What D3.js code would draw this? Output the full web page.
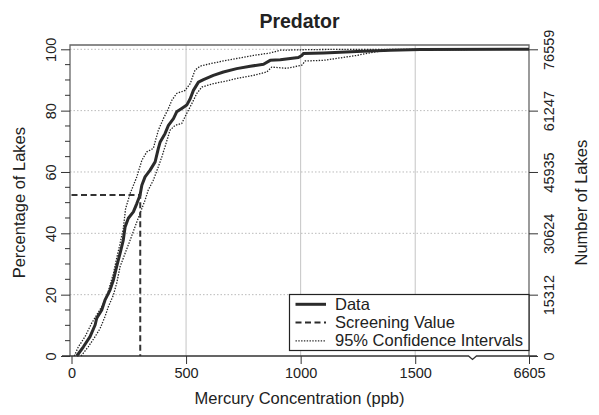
<!DOCTYPE html>
<html>
<head>
<meta charset="utf-8">
<script src="https://cdn.jsdelivr.net/npm/d3@7"></script>
<style>
  body { margin: 0; background: #fff; }
  text { font-family: "Liberation Sans", Arial, sans-serif; fill: #222; }
</style>
</head>
<body>
<div class="chart"></div>
<script>
// cumulative distribution (ppb, % of lakes)
var dataPpb = [23, 52, 81, 103, 110, 132, 146, 168, 183, 197, 212, 226, 234, 248, 270, 285, 299, 307, 321, 343, 365, 379, 387, 408, 423, 445, 459, 481, 503, 518, 532, 554, 576, 619, 663, 721, 780, 838, 867, 911, 990, 1005, 1012, 1100, 1245, 1391, 1522, 6605];
var dataPct = [0, 3.0, 6.3, 10.1, 12.3, 15.0, 18.2, 21.5, 24.8, 29.1, 33.5, 37.8, 42.1, 44.9, 47.0, 49.7, 52.4, 55.7, 58.4, 60.6, 63.3, 67.7, 69.8, 72.5, 75.2, 77.4, 79.6, 80.7, 81.8, 83.9, 86.6, 89.3, 90.1, 91.5, 92.6, 93.7, 94.5, 95.1, 96.4, 96.6, 97.3, 98.0, 98.6, 98.8, 99.3, 99.7, 99.9, 100];

var upperPpb = [12, 30, 59, 88, 110, 132, 154, 168, 183, 197, 212, 226, 236, 256, 285, 307, 328, 357, 379, 401, 423, 438, 459, 496, 518, 539, 561, 605, 663, 721, 794, 867, 911, 1042, 1200, 6605];
var upperPct = [0, 3.0, 6.3, 10.7, 13.4, 16.1, 19.3, 23.1, 26.9, 31.8, 36.7, 41.6, 48.0, 53.0, 58.4, 63.8, 66.5, 67.7, 73.6, 77.4, 80.7, 83.4, 85.6, 86.6, 88.8, 93.2, 94.5, 95.3, 96.2, 97.0, 98.0, 98.8, 99.7, 99.9, 100, 100];

var lowerPpb = [42, 73, 103, 125, 146, 161, 183, 197, 212, 234, 256, 277, 299, 321, 335, 357, 379, 394, 408, 430, 452, 481, 503, 525, 547, 569, 619, 678, 721, 794, 852, 874, 940, 1005, 1020, 1100, 1245, 1318, 1391, 1522, 6605];
var lowerPct = [0, 3.0, 6.3, 9.0, 12.8, 16.1, 19.9, 23.7, 29.1, 33.5, 37.8, 42.1, 46.5, 50.8, 54.1, 57.3, 61.7, 64.9, 68.2, 73.6, 75.2, 75.8, 79.1, 82.3, 85.6, 87.7, 88.8, 89.7, 90.5, 91.5, 92.6, 94.2, 93.8, 94.8, 96.2, 96.4, 98.0, 99.1, 99.7, 99.9, 100];

var screeningPpb = 300;
var screeningPct = 52.5;

var xTicks = [0, 500, 1000, 1500, 6605];
var yTicks = [0, 20, 40, 60, 80, 100];
var yMinorTicks = [5, 10, 15, 25, 30, 35, 45, 50, 55, 65, 70, 75, 85, 90, 95];
var lakeLabels = ["0", "15312", "30624", "45935", "61247", "76559"];
var legendLabels = ["Data", "Screening Value", "95% Confidence Intervals"];

var svgWidth = 599;
var svgHeight = 415;
var box = { left: 70, right: 529, top: 45, bottom: 356 };

var svg = d3.select(".chart")
  .append("svg")
  .attr("width", svgWidth)
  .attr("height", svgHeight);

// broken x axis: linear to 1750, then squeezed up to the max
var xScale = d3.scaleLinear()
  .domain([0, 1750, 6605])
  .range([71.5, 472.5, 529]);

var yScale = d3.scaleLinear()
  .domain([0, 100])
  .range([356, 49.3]);

// grid
svg.selectAll(".vgrid")
  .data(xTicks.slice(1, 4))
  .enter().append("line")
    .attr("x1", function(d) { return xScale(d); })
    .attr("x2", function(d) { return xScale(d); })
    .attr("y1", box.top)
    .attr("y2", box.bottom)
    .attr("stroke", "#c4c4c4")
    .attr("stroke-width", 1);

svg.selectAll(".hgrid")
  .data(yTicks.slice(1))
  .enter().append("line")
    .attr("x1", box.left)
    .attr("x2", box.right)
    .attr("y1", function(d) { return yScale(d); })
    .attr("y2", function(d) { return yScale(d); })
    .attr("stroke", "#bbb")
    .attr("stroke-width", 1)
    .attr("stroke-dasharray", "1.5,2");

// plot box (top, left, right)
svg.append("path")
  .attr("d", "M" + box.left + "," + box.bottom + "V" + box.top + "H" + box.right + "V" + box.bottom)
  .attr("fill", "none")
  .attr("stroke", "#666")
  .attr("stroke-width", 1.3);

var line = d3.line()
  .x(function(d) { return xScale(d[0]); })
  .y(function(d) { return yScale(d[1]); });

var upper = d3.zip(upperPpb, upperPct);
var lower = d3.zip(lowerPpb, lowerPct);
var main = d3.zip(dataPpb, dataPct);

[upper, lower].forEach(function(ci) {
  svg.append("path")
    .attr("d", line(ci))
    .attr("fill", "none")
    .attr("stroke", "#222")
    .attr("stroke-width", 1.3)
    .attr("stroke-dasharray", "1.4,1.4");
});

svg.append("path")
  .attr("d", line(main))
  .attr("fill", "none")
  .attr("stroke", "#2b2b2b")
  .attr("stroke-width", 3)
  .attr("stroke-linejoin", "round");

// screening value
svg.append("path")
  .attr("d", line([[0, screeningPct], [screeningPpb, screeningPct], [screeningPpb, 0]]))
  .attr("fill", "none")
  .attr("stroke", "#333")
  .attr("stroke-width", 2)
  .attr("stroke-dasharray", "6,3.5");

// x axis line with break mark
var xb = xScale(1750);
svg.append("path")
  .attr("d", "M62," + box.bottom + "H" + (xb - 4) + "L" + xb + "," + (box.bottom + 3.5) + "L" + (xb + 4) + "," + box.bottom + "H537")
  .attr("fill", "none")
  .attr("stroke", "#333")
  .attr("stroke-width", 1.3);

var bottomAxis = d3.axisBottom(xScale)
  .tickValues(xTicks)
  .tickFormat(d3.format("d"))
  .tickSize(8)
  .tickPadding(4);

var gx = svg.append("g")
  .attr("transform", "translate(0," + box.bottom + ")")
  .call(bottomAxis);
gx.select(".domain").remove();
gx.selectAll("line").attr("stroke", "#333");
gx.selectAll("text").style("font-size", "14.5px").attr("fill", "#222");

// left axis
var leftAxis = d3.axisLeft(yScale)
  .tickValues(yTicks)
  .tickSize(9)
  .tickPadding(0);

var gy = svg.append("g")
  .attr("transform", "translate(" + box.left + ",0)")
  .call(leftAxis);
gy.select(".domain").remove();
gy.selectAll("line").attr("stroke", "#333");
gy.selectAll("text")
  .attr("x", null).attr("dy", null)
  .attr("text-anchor", "middle")
  .attr("transform", "translate(-14.5,0) rotate(-90)")
  .attr("y", 0)
  .style("font-size", "14.5px");

svg.selectAll(".minor")
  .data(yMinorTicks)
  .enter().append("line")
    .attr("x1", box.left - 5)
    .attr("x2", box.left)
    .attr("y1", function(d) { return yScale(d); })
    .attr("y2", function(d) { return yScale(d); })
    .attr("stroke", "#333");

// right axis: number of lakes
var rightAxis = d3.axisRight(yScale)
  .tickValues(yTicks)
  .tickFormat(function(d, i) { return lakeLabels[i]; })
  .tickSize(9);

var gr = svg.append("g")
  .attr("transform", "translate(" + box.right + ",0)")
  .call(rightAxis);
gr.select(".domain").remove();
gr.selectAll("line").attr("stroke", "#333");
gr.selectAll("text")
  .attr("x", null).attr("dy", null)
  .attr("text-anchor", "middle")
  .attr("transform", "translate(24.5,0) rotate(-90)")
  .attr("y", 0)
  .style("font-size", "14.5px");

// titles
svg.append("text")
  .attr("x", 299.5)
  .attr("y", 27.5)
  .attr("text-anchor", "middle")
  .style("font-size", "19.5px")
  .style("font-weight", "bold")
  .text("Predator");

svg.append("text")
  .attr("x", 299.5)
  .attr("y", 404)
  .attr("text-anchor", "middle")
  .style("font-size", "16.5px")
  .text("Mercury Concentration (ppb)");

svg.append("text")
  .attr("transform", "translate(25," + yScale(50) + ") rotate(-90)")
  .attr("text-anchor", "middle")
  .style("font-size", "16.5px")
  .text("Percentage of Lakes");

svg.append("text")
  .attr("transform", "translate(587," + yScale(50) + ") rotate(-90)")
  .attr("text-anchor", "middle")
  .style("font-size", "16.5px")
  .text("Number of Lakes");

// legend
var legend = svg.append("g");
legend.append("rect")
  .attr("x", 289.5)
  .attr("y", 294.5)
  .attr("width", 239.5)
  .attr("height", 56)
  .attr("fill", "#fff")
  .attr("stroke", "#222")
  .attr("stroke-width", 1.2);

var legendStyles = [
  { w: 3, dash: null },
  { w: 2, dash: "6,3.5" },
  { w: 1.3, dash: "1.4,1.4" }
];

legendLabels.forEach(function(label, i) {
  var y = 304.3 + i * 18.3;
  legend.append("line")
    .attr("x1", 295.5)
    .attr("x2", 326)
    .attr("y1", y)
    .attr("y2", y)
    .attr("stroke", "#2b2b2b")
    .attr("stroke-width", legendStyles[i].w)
    .attr("stroke-dasharray", legendStyles[i].dash);
  legend.append("text")
    .attr("x", 335)
    .attr("y", y + 5.5)
    .style("font-size", "16.5px")
    .text(label);
});
</script>
</body>
</html>
